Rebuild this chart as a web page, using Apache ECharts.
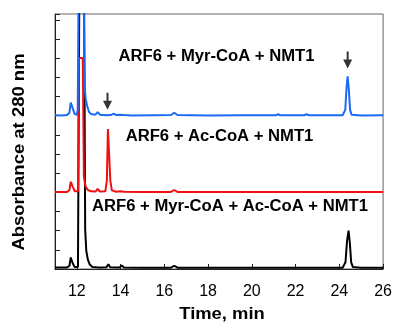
<!DOCTYPE html>
<html>
<head>
<meta charset="utf-8">
<script src="https://cdn.jsdelivr.net/npm/echarts@6/dist/echarts.min.js"></script>
<style>
  html, body { margin: 0; padding: 0; background: #fff; }
  #chart { width: 395px; height: 326px; }
</style>
</head>
<body>
<div id="chart"></div>
<script>
// absorbance above each trace's own baseline as [time (min), value]
const myrTrace = [
  [11.0, 0.02], [11.3, 0.0], [11.55, 0.03], [11.66, 0.15], [11.72, 0.68], [11.77, 0.75], [11.82, 0.35],
  [11.9, 0.08], [12.0, 0.05], [12.04, 0.3], [12.08, 7.0], [12.31, 7.0], [12.35, 1.6], [12.4, 0.9],
  [12.47, 0.5], [12.55, 0.2], [12.65, 0.08], [12.85, 0.05], [12.95, 0.18], [13.05, 0.05], [13.35, 0.02],
  [13.55, 0.03], [13.68, 0.1], [13.8, 0.03], [14.0, 0.05], [14.06, 0.14], [14.15, 0.03], [14.5, 0.0],
  [15.5, 0.02], [16.3, 0.03], [16.45, 0.15], [16.6, 0.03], [18.0, 0.0], [19.5, 0.02], [21.1, 0.02],
  [21.2, 0.07], [21.3, 0.02], [22.4, 0.02], [22.5, 0.07], [22.6, 0.02], [24.15, 0.02], [24.27, 0.3],
  [24.33, 1.5], [24.38, 2.05], [24.43, 1.4], [24.49, 0.3], [24.56, 0.05], [25.0, 0.01], [26.0, 0.02]
];
const acTrace = [
  [11.0, 0.02], [11.55, 0.02], [11.66, 0.12], [11.72, 0.55], [11.76, 0.63], [11.81, 0.3], [11.9, 0.06],
  [12.05, 0.05], [12.1, 7.0], [12.27, 7.0], [12.32, 0.8], [12.4, 0.3], [12.5, 0.12], [12.65, 0.05],
  [12.85, 0.04], [12.95, 0.18], [13.05, 0.04], [13.3, 0.05], [13.37, 0.6], [13.42, 3.3], [13.47, 3.2],
  [13.53, 0.6], [13.6, 0.1], [13.8, 0.03], [14.0, 0.05], [14.06, 0.12], [14.15, 0.03], [15.0, 0.01],
  [16.3, 0.02], [16.45, 0.12], [16.6, 0.02], [20.0, 0.01], [26.0, 0.02]
];
const bothTrace = [
  [11.0, 0.03], [11.55, 0.03], [11.66, 0.12], [11.72, 0.55], [11.76, 0.6], [11.81, 0.25], [11.9, 0.05],
  [12.05, 0.05], [12.11, 14.0], [12.33, 14.0], [12.38, 2.0], [12.43, 0.9], [12.5, 0.45], [12.58, 0.2],
  [12.7, 0.06], [12.9, 0.04], [12.96, 0.13], [13.05, 0.03], [13.35, 0.04], [13.44, 0.2], [13.52, 0.04],
  [13.95, 0.03], [14.05, 0.13], [14.15, 0.03], [15.0, 0.01], [16.3, 0.02], [16.45, 0.12], [16.6, 0.02],
  [20.0, 0.01], [24.15, 0.02], [24.28, 0.3], [24.35, 1.4], [24.42, 1.95], [24.48, 1.3], [24.54, 0.3],
  [24.62, 0.05], [25.0, 0.02], [26.0, 0.02]
];
const traceOffsets = [8, 4, 0.05];          // vertical stacking of the three runs
const traceNames = ["ARF6 + Myr-CoA + NMT1", "ARF6 + Ac-CoA + NMT1", "ARF6 + Myr-CoA + Ac-CoA + NMT1"];
const traceColors = ["#1a6af5", "#f01010", "#000000"];
const xTicks = [12, 14, 16, 18, 20, 22, 24, 26];
const arrowPoints = [[13.4, 8.75], [24.38, 10.9]];

const font = "'Liberation Sans', Arial, sans-serif";
const traces = [myrTrace, acTrace, bothTrace];

const chart = echarts.init(document.getElementById("chart"), null, { renderer: "canvas" });

const series = traces.map((tr, i) => ({
  name: traceNames[i],
  type: "line",
  data: tr.map(([t, v]) => [t, v + traceOffsets[i]]),
  showSymbol: false,
  symbol: "none",
  clip: true,
  z: 3 - i,
  lineStyle: { color: traceColors[i], width: 2 }
}));

series.push({
  type: "scatter",
  data: arrowPoints,
  symbol: "path://M3.6,0 L5.6,0 L5.6,8 L9.2,8 L4.6,17 L0,8 L3.6,8 Z",
  symbolSize: [9, 17],
  itemStyle: { color: "#000" },
  silent: true,
  z: 5
});

function label(text, x, y, size, sx, rot) {
  return {
    type: "text", x: x, y: y, rotation: rot || 0, scaleX: sx,
    style: { text: text, font: "bold " + size + "px " + font, fill: "#000", align: "center", verticalAlign: "middle" }
  };
}

chart.setOption({
  animation: false,
  backgroundColor: "#fff",
  grid: { left: 55, right: 7, top: 14, bottom: 57, show: true, borderColor: "#666", borderWidth: 1 },
  xAxis: {
    type: "value",
    min: 11,
    max: 26,
    axisLine: { onZero: false, lineStyle: { color: "#222", width: 1 } },
    axisTick: { inside: true, length: 5, customValues: xTicks, lineStyle: { color: "#222" } },
    axisLabel: { customValues: xTicks, margin: 15, fontFamily: font, fontSize: 16, color: "#000" },
    splitLine: { show: false }
  },
  yAxis: {
    type: "value",
    min: 0,
    max: 13.3,
    interval: 1,
    axisLine: { show: true, lineStyle: { color: "#222", width: 1 } },
    axisTick: { show: true, inside: true, length: 5, lineStyle: { color: "#222" } },
    axisLabel: { show: false },
    splitLine: { show: false }
  },
  graphic: [
    label("Absorbance at 280 nm", 19.5, 152, 16.5, 1.12, Math.PI / 2),
    label("Time, min", 222, 315, 16, 1.15),
    label(traceNames[0], 216.5, 57, 16, 1.04),
    label(traceNames[1], 219.5, 137, 16, 1.04),
    label(traceNames[2], 230, 207, 16, 1.04)
  ],
  series: series
});
</script>
</body>
</html>
